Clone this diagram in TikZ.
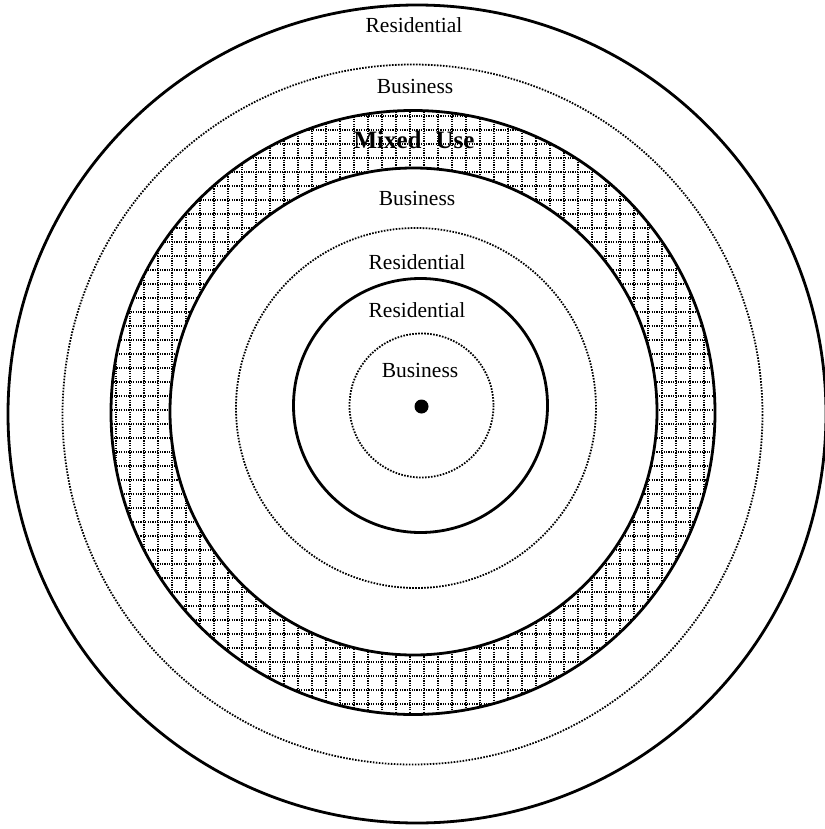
\documentclass[tikz,border=0pt]{standalone}
\usepackage{fontspec}
\setmainfont{Liberation Serif}
\begin{document}
\begin{tikzpicture}[x=1pt,y=-1pt,
    ring/.style={line width=2.8pt},
    dotring/.style={line width=1.8pt,dash pattern=on 1.6pt off 1.4pt},
    hatch/.style={line width=1.3pt,dash pattern=on 1.2pt off 1.2pt},
    zone/.style={anchor=base,inner sep=0pt,font=\fontsize{21.5}{24}\selectfont}]
    \useasboundingbox (0,0) rectangle (824,829);
    % cross-hatched mixed use band
    \begin{scope}
        \clip (413,412.5) circle (302);
        \foreach \t in {102,116,...,732} {
            \draw[hatch] (\t,90) -- (\t,740);
            \draw[hatch] (90,\t) -- (740,\t);
        }
    \end{scope}
    \fill[white] (413.5,411.5) circle (243.5);
    % zone rings, outside in
    \foreach \cx/\cy/\r/\s in {417/414/409/ring, 412.5/414.5/350/dotring,
        413/412.5/302/ring, 413.5/411.5/243.5/ring, 416/408/180/dotring,
        420.5/405.5/127/ring, 421.5/405.5/72/dotring} {
        \draw[\s] (\cx,\cy) circle (\r);
    }
    \node[circle,fill,inner sep=0pt,minimum size=14pt] (hub) at (421.5,406.5) {};
    \node[zone] (res1) at (414,33) {Residential};
    \node[zone] (bus1) at (415,94) {Business};
    \node[zone,font=\fontsize{25}{28}\selectfont\bfseries] (mixed) at (414,149) {Mixed\hspace{14pt}Use};
    \node[zone] (bus2) at (417,205) {Business};
    \node[zone] (res2) at (417,269) {Residential};
    \node[zone] (res3) at (417,317) {Residential};
    \node[zone] (bus3) at (420,377) {Business};
\end{tikzpicture}
\end{document}
